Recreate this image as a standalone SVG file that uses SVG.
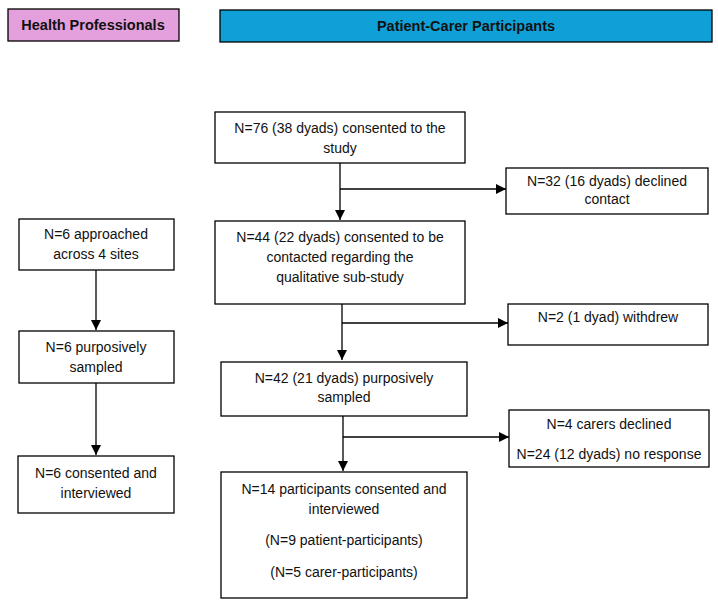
<svg xmlns="http://www.w3.org/2000/svg" width="718" height="600" viewBox="0 0 718 600">
<style>
.box{fill:#fff;stroke:#000;stroke-width:1.3}
.t{font-family:"Liberation Sans",Arial,sans-serif;font-size:14px;fill:#111;text-anchor:middle}
.h{font-family:"Liberation Sans",Arial,sans-serif;font-size:14.5px;font-weight:bold;fill:#111;text-anchor:middle}
.c{stroke:#000;stroke-width:1.3;fill:none}
</style>
<defs>
<marker id="ah" viewBox="0 0 10 10" refX="10" refY="5" markerWidth="10" markerHeight="10" markerUnits="userSpaceOnUse" orient="auto">
<path d="M0,0 L10,5 L0,10 Z" fill="#000"/>
</marker>
</defs>
<rect width="718" height="600" fill="#fff"/>
<g id="hdr-hp">
<rect x="8" y="9" width="171" height="32" fill="#E4A0DC" stroke="#000" stroke-width="1.3"/>
<text class="h" x="93" y="30">Health Professionals</text>
</g>
<g id="hdr-pc">
<rect x="220" y="10" width="492" height="32" fill="#10A0D8" stroke="#000" stroke-width="1.3"/>
<text class="h" x="466" y="31">Patient-Carer Participants</text>
</g>
<g id="connectors">
<line class="c" x1="340" y1="163" x2="340" y2="220" marker-end="url(#ah)"/>
<line class="c" x1="340" y1="189" x2="506" y2="189" marker-end="url(#ah)"/>
<line class="c" x1="342" y1="304" x2="342" y2="360" marker-end="url(#ah)"/>
<line class="c" x1="342" y1="323" x2="508" y2="323" marker-end="url(#ah)"/>
<line class="c" x1="343" y1="416" x2="343" y2="471" marker-end="url(#ah)"/>
<line class="c" x1="343" y1="437" x2="509" y2="437" marker-end="url(#ah)"/>
<line class="c" x1="96" y1="270" x2="96" y2="330" marker-end="url(#ah)"/>
<line class="c" x1="96" y1="383" x2="96" y2="455" marker-end="url(#ah)"/>
</g>
<g id="n76">
<rect class="box" x="215" y="112" width="250" height="51"/>
<text class="t" x="340" y="133">N=76 (38 dyads) consented to the</text>
<text class="t" x="340" y="153">study</text>
</g>
<g id="n32">
<rect class="box" x="506" y="168" width="202" height="46"/>
<text class="t" x="607" y="186">N=32 (16 dyads) declined</text>
<text class="t" x="607" y="204">contact</text>
</g>
<g id="n44">
<rect class="box" x="215" y="221" width="250" height="83"/>
<text class="t" x="340" y="242">N=44 (22 dyads) consented to be</text>
<text class="t" x="340" y="262">contacted regarding the</text>
<text class="t" x="340" y="282">qualitative sub-study</text>
</g>
<g id="n2">
<rect class="box" x="508" y="304" width="200" height="41"/>
<text class="t" x="608" y="322">N=2 (1 dyad) withdrew</text>
</g>
<g id="n42">
<rect class="box" x="221" y="362" width="246" height="54"/>
<text class="t" x="344" y="383">N=42 (21 dyads) purposively</text>
<text class="t" x="344" y="402">sampled</text>
</g>
<g id="n4">
<rect class="box" x="509" y="410" width="200" height="57"/>
<text class="t" x="609" y="429">N=4 carers declined</text>
<text class="t" x="609" y="459">N=24 (12 dyads) no response</text>
</g>
<g id="n14">
<rect class="box" x="221" y="472" width="246" height="126"/>
<text class="t" x="344" y="494">N=14 participants consented and</text>
<text class="t" x="344" y="514">interviewed</text>
<text class="t" x="344" y="545">(N=9 patient-participants)</text>
<text class="t" x="344" y="577">(N=5 carer-participants)</text>
</g>
<g id="hp1">
<rect class="box" x="19" y="219" width="155" height="51"/>
<text class="t" x="96" y="239">N=6 approached</text>
<text class="t" x="96" y="259">across 4 sites</text>
</g>
<g id="hp2">
<rect class="box" x="19" y="331" width="155" height="52"/>
<text class="t" x="96" y="352">N=6 purposively</text>
<text class="t" x="96" y="372">sampled</text>
</g>
<g id="hp3">
<rect class="box" x="18" y="456" width="156" height="57"/>
<text class="t" x="96" y="478">N=6 consented and</text>
<text class="t" x="96" y="498">interviewed</text>
</g>
</svg>
